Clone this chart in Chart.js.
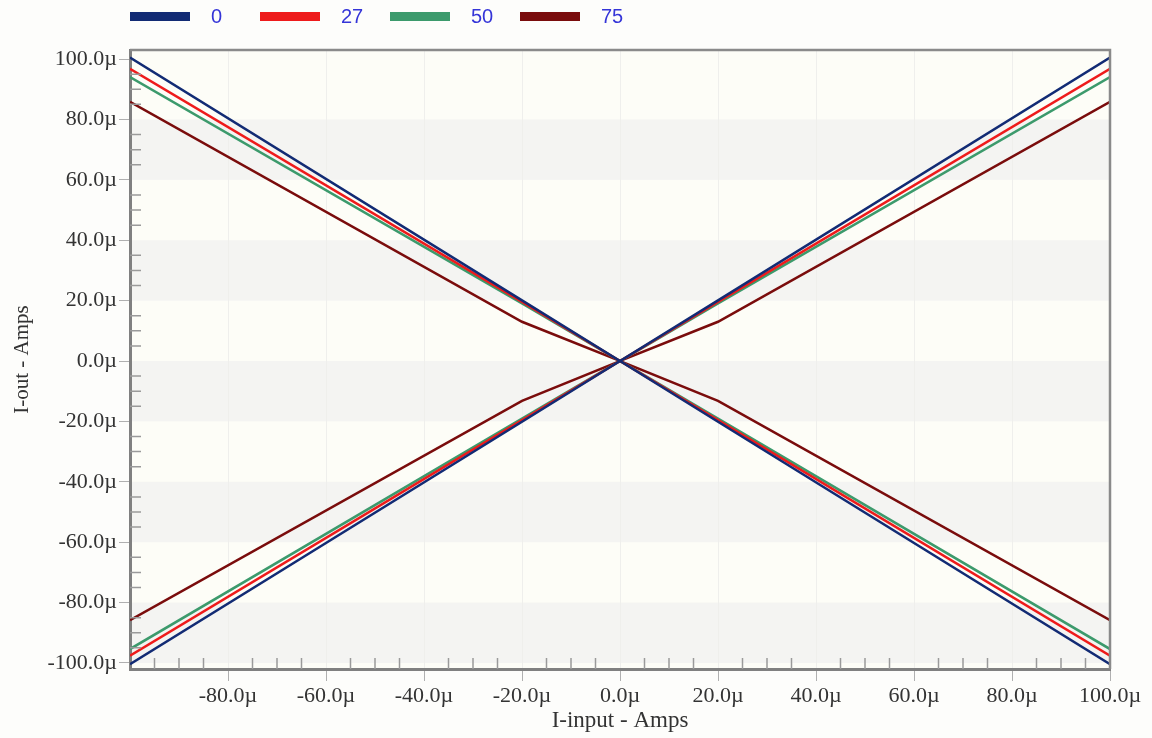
<!DOCTYPE html>
<html>
<head>
<meta charset="utf-8">
<title>I-out vs I-input</title>
<script src="https://cdn.jsdelivr.net/npm/chart.js@4.4.1/dist/chart.umd.min.js"></script>
<style>
    html, body { margin: 0; padding: 0; background: #fdfdfb; }
    #wrap { position: relative; width: 1152px; height: 738px; }
    #legend { position: absolute; left: 130px; top: 4px; display: flex; align-items: center; height: 24px; }
    .legend-item { width: 130px; display: flex; align-items: center; }
    .swatch { width: 60px; height: 9px; display: inline-block; }
    .legend-text { margin-left: 21px; font: 20px "Liberation Sans", Arial, sans-serif; color: #3535d8; }
    canvas { position: absolute; left: 0; top: 0; }
</style>
</head>
<body>
<div id="wrap">
    <canvas id="chart" width="1152" height="738"></canvas>
    <div id="legend"></div>
</div>
<script>
// input current sweep (uA) and output current per temperature (uA)
const iInput = [-100, -20, 0, 20, 100];
const temps = ['0', '27', '50', '75'];
const iOut0 = [100.5, 20.1, 0, 20.1, 100.5];
const iOut27 = [96.8, 19.6, 0, 19.6, 96.8];
const iOut50 = [94.0, 19.1, 0, 19.1, 94.0];
const iOut75 = [85.8, 13.0, 0, 13.0, 85.8];
const iOut0Neg = [-100.4, -20.1, 0, -20.1, -100.4];
const iOut27Neg = [-97.6, -19.6, 0, -19.6, -97.6];
const iOut50Neg = [-95.4, -19.1, 0, -19.1, -95.4];
const iOut75Neg = [-85.8, -13.2, 0, -13.2, -85.8];
const xTicks = [-80, -60, -40, -20, 0, 20, 40, 60, 80, 100];
const yTicks = [-100, -80, -60, -40, -20, 0, 20, 40, 60, 80, 100];

const colors = ['#122b74', '#ee1b1b', '#3c9a6c', '#7a0c0c'];
const posSeries = [iOut0, iOut27, iOut50, iOut75];
const negSeries = [iOut0Neg, iOut27Neg, iOut50Neg, iOut75Neg];

const toPoints = ys => iInput.map((x, i) => ({ x: x, y: ys[i] }));

const datasets = [];
temps.forEach((t, i) => {
    datasets.push({ label: t, data: toPoints(posSeries[i]), borderColor: colors[i], showInLegend: true });
    datasets.push({ label: t, data: toPoints(negSeries[i]), borderColor: colors[i], showInLegend: false });
});
datasets.forEach(d => { d.borderWidth = 2.5; d.pointRadius = 0; d.tension = 0; d.fill = false; });

const serif = '"Liberation Serif", "Times New Roman", serif';
const fmtMicro = v => v.toFixed(1) + 'µ';

// cream plot face with grey bands on every other y interval
const plotBackdrop = {
    id: 'plotBackdrop',
    beforeDraw(chart) {
        const { ctx, chartArea: a, scales } = chart;
        ctx.save();
        ctx.fillStyle = '#fdfdf7';
        ctx.fillRect(a.left, a.top, a.right - a.left, a.bottom - a.top);
        ctx.fillStyle = '#f4f4f2';
        for (let i = 0; i + 1 < yTicks.length; i += 2) {
            const y1 = scales.y.getPixelForValue(yTicks[i + 1]);
            const y0 = scales.y.getPixelForValue(yTicks[i]);
            ctx.fillRect(a.left, y1, a.right - a.left, y0 - y1);
        }
        ctx.restore();
    }
};

// inward minor ticks every 5u and the top/right frame
const plotFrame = {
    id: 'plotFrame',
    afterDraw(chart) {
        const { ctx, chartArea: a, scales } = chart;
        ctx.save();
        ctx.strokeStyle = '#9a9a9a';
        ctx.lineWidth = 1.5;
        ctx.beginPath();
        for (let v = -95; v < 100; v += 5) {
            if (v % 20 === 0) continue;
            const py = scales.y.getPixelForValue(v);
            ctx.moveTo(a.left, py); ctx.lineTo(a.left + 11, py);
            const px = scales.x.getPixelForValue(v);
            ctx.moveTo(px, a.bottom); ctx.lineTo(px, a.bottom - 11);
        }
        ctx.stroke();
        ctx.strokeStyle = '#8a8a8a';
        ctx.lineWidth = 2.5;
        ctx.beginPath();
        ctx.moveTo(a.left, a.top); ctx.lineTo(a.right, a.top); ctx.lineTo(a.right, a.bottom);
        ctx.stroke();
        ctx.restore();
    }
};

const chart = new Chart(document.getElementById('chart'), {
    type: 'line',
    data: { datasets: datasets },
    options: {
        responsive: false,
        animation: false,
        layout: { padding: { top: 50, right: 42, left: 0, bottom: 0 } },
        plugins: { legend: { display: false }, tooltip: { enabled: false } },
        scales: {
            x: {
                type: 'linear', min: -100, max: 100,
                afterBuildTicks: s => { s.ticks = xTicks.map(v => ({ value: v })); },
                afterFit: s => { s.height = 69; },
                ticks: { callback: fmtMicro, font: { family: serif, size: 22 }, color: '#333', padding: 2, maxRotation: 0 },
                grid: { color: '#efefec', lineWidth: 1, tickLength: 12, tickColor: '#b0b0b0' },
                border: { color: '#808080', width: 3 },
                title: { display: true, text: 'I-input - Amps', font: { family: serif, size: 23 }, color: '#333', padding: { top: 0, bottom: 3 } }
            },
            y: {
                type: 'linear', min: -102, max: 103,
                afterBuildTicks: s => { s.ticks = yTicks.map(v => ({ value: v })); },
                afterFit: s => { s.width = 130; },
                ticks: { callback: fmtMicro, font: { family: serif, size: 22 }, color: '#333', padding: 2 },
                grid: { drawOnChartArea: false, tickLength: 11, tickColor: '#b0b0b0' },
                border: { color: '#808080', width: 3 },
                title: { display: true, text: 'I-out - Amps', font: { family: serif, size: 21 }, color: '#333', padding: { top: 10, bottom: 0 } }
            }
        }
    },
    plugins: [plotBackdrop, plotFrame]
});

function buildLegend(chart) {
    const box = document.getElementById('legend');
    box.innerHTML = '';
    chart.data.datasets.filter(d => d.showInLegend).forEach(d => {
        const item = document.createElement('div');
        item.className = 'legend-item';
        item.innerHTML = `<span class="swatch" style="background:${d.borderColor}"></span><span class="legend-text">${d.label}</span>`;
        box.appendChild(item);
    });
}
buildLegend(chart);
</script>
</body>
</html>
